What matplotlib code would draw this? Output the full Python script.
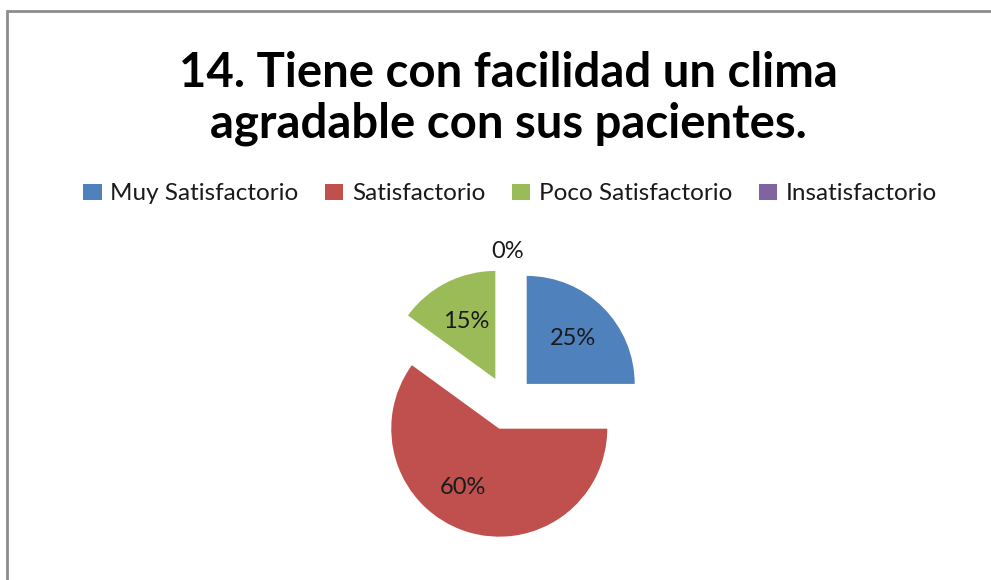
import numpy as np
from matplotlib import pyplot as plt
from matplotlib.patches import Rectangle

# chart data
categories = ['Muy Satisfactorio', 'Satisfactorio', 'Poco Satisfactorio',
              'Insatisfactorio']
shares = [25, 60, 15, 0]
colors = ['#4F81BD', '#C0504D', '#9BBB59', '#8064A2']
title = '14. Tiene con facilidad un clima\nagradable con sus pacientes.'

plt.rcParams['font.family'] = ['Lato', 'DejaVu Sans']

W, H = 991, 580
fig = plt.figure(figsize=(W / 100, H / 100), dpi=100)
ax = fig.add_axes([0, 0, 1, 1])

# pie geometry in pixel units (y up)
radius = 108
center = (507.6, H - 403)

wedges, texts, autotexts = ax.pie(
    shares, colors=colors, startangle=90, counterclock=False,
    explode=[0.25 * radius] * len(shares), radius=radius, center=center,
    autopct='%1.0f%%', pctdistance=0.6,
    wedgeprops={'linewidth': 0},
    textprops={'fontsize': 17, 'color': '#1a1a1a'})

# the 0% label sits outside its (empty) slice
w = wedges[3]
ang = np.deg2rad((w.theta1 + w.theta2) / 2)
autotexts[3].set_position((w.center[0] + 1.15 * radius * np.cos(ang),
                           w.center[1] + 1.15 * radius * np.sin(ang)))
# the big slice's label sits a bit further round, as in the original
w = wedges[1]
ang = np.deg2rad((w.theta1 + w.theta2) / 2 - 14)
autotexts[1].set_position((w.center[0] + 0.64 * radius * np.cos(ang),
                           w.center[1] + 0.64 * radius * np.sin(ang)))

ax.set_xlim(0, W)
ax.set_ylim(0, H)
ax.set_aspect('equal')
ax.axis('off')

# chart frame
frame = Rectangle((7, -20), W + 20, H - 11 + 20, transform=ax.transData,
                  fill=False, edgecolor='#8c8c8c', linewidth=2, clip_on=False)
ax.add_patch(frame)

fig.text(508 / W, 1 - 137 / H, title, ha='center', va='baseline',
         fontsize=34, fontweight='bold', linespacing=1.17,
         multialignment='center')

handles = [Rectangle((0, 0), 1, 1, facecolor=c, edgecolor='none')
           for c in colors]
fig.legend(handles, categories, loc='center', ncol=4,
           bbox_to_anchor=(510 / W, 1 - 194 / H), frameon=False,
           fontsize=17.5, handlelength=0.75, handleheight=0.6,
           handletextpad=0.35, columnspacing=1.1, labelcolor='#1a1a1a')

fig.savefig('out.png', dpi=100)
